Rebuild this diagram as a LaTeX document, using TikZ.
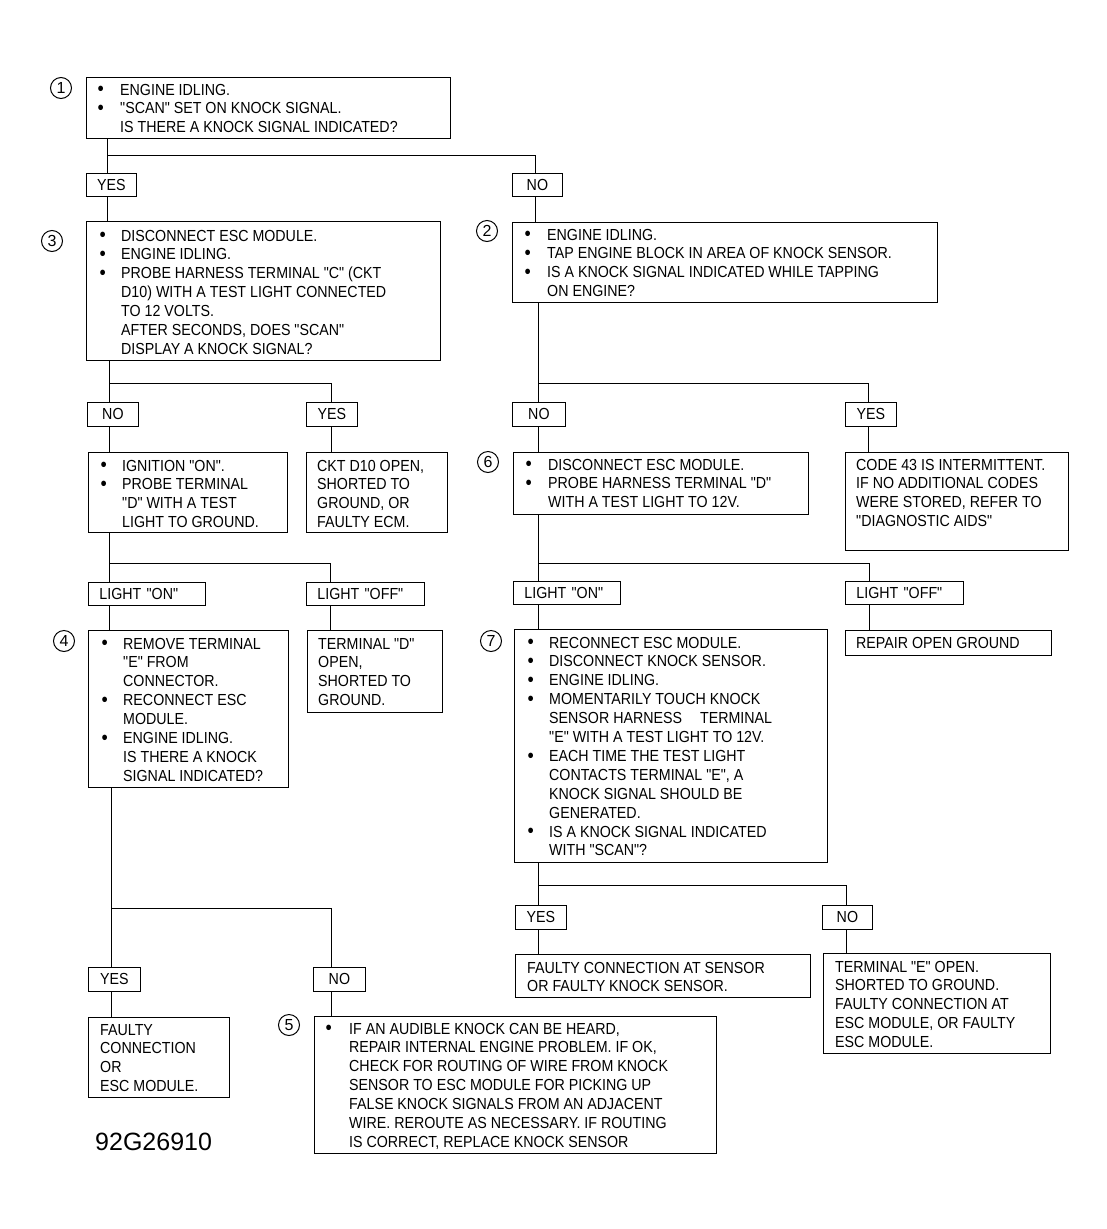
\documentclass[tikz,border=0pt]{standalone}
\usepackage{fontspec}
\setmainfont{Liberation Sans}[FakeStretch=0.89, Ligatures=TeXOff]
\newfontfamily\plainfont{Liberation Sans}
\newcommand\bu[1]{\makebox[#1][l]{\raisebox{-0.6pt}{\fontsize{20}{20}\selectfont\textbullet}}}
\newcommand\ind[1]{\hspace*{#1}}
\newcommand\st{\rule{0pt}{13.9pt}}
\begin{document}
\begin{tikzpicture}[x=1pt,y=-1pt,
  every node/.style={font=\fontsize{16}{18.9}\selectfont},
  box/.style={draw, line width=0.8pt, anchor=north west, inner sep=0pt},
  txt/.style={anchor=north west, inner sep=0pt, align=left},
  yn/.style={draw, line width=0.8pt, anchor=north west, inner sep=0pt, minimum height=24pt},
  lt/.style={draw, line width=0.8pt, anchor=north west, inner xsep=11pt, inner ysep=0pt, minimum height=23pt, text width=#1, align=left},
  num/.style={circle, draw, line width=1pt, inner sep=0pt, minimum size=21pt, font=\plainfont\fontsize{16}{16}\selectfont},
  conn/.style={line width=0.8pt}
]
\fill[white] (0,0) rectangle (1106,1229);
\useasboundingbox (0,0) rectangle (1106,1229);

% ---------- boxes ----------
\node[box, minimum width=364pt, minimum height=61pt] (b1) at (86,77) {};
\node[yn, minimum width=50pt, minimum height=23pt] (yes1) at (86,173) {YES};
\node[yn, minimum width=50pt, minimum height=23pt] (no1) at (512,173) {NO};
\node[box, minimum width=354pt, minimum height=139pt] (b3) at (86,221) {};
\node[box, minimum width=425pt, minimum height=80pt] (b2) at (512,222) {};
\node[yn, minimum width=51pt] (no3) at (87,402) {NO};
\node[yn, minimum width=51pt] (yes3) at (306,402) {YES};
\node[yn, minimum width=53pt] (no2) at (512,402) {NO};
\node[yn, minimum width=51pt] (yes2) at (845,402) {YES};
\node[box, minimum width=199pt, minimum height=80pt] (ign) at (88,452) {};
\node[box, minimum width=141pt, minimum height=80pt] (ckt) at (306,452) {};
\node[box, minimum width=295pt, minimum height=62pt] (b6) at (513,452) {};
\node[box, minimum width=223pt, minimum height=98pt] (code) at (845,452) {};
\node[lt=95pt] (lonL) at (88,582) {LIGHT "ON"};
\node[lt=96pt] (loffL) at (306,582) {LIGHT "OFF"};
\node[lt=85pt] (lonR) at (513,581) {LIGHT "ON"};
\node[lt=96pt] (loffR) at (845,581) {LIGHT "OFF"};
\node[box, minimum width=200pt, minimum height=157pt] (b4) at (88,630) {};
\node[box, minimum width=135pt, minimum height=82pt] (termd) at (307,630) {};
\node[box, minimum width=313pt, minimum height=233pt] (b7) at (514,629) {};
\node[box, minimum width=206pt, minimum height=25pt] (rep) at (845,630) {};
\node[yn, minimum width=52pt] (yes4) at (88,967) {YES};
\node[yn, minimum width=52pt] (no4) at (313,967) {NO};
\node[box, minimum width=141pt, minimum height=80pt] (fc4) at (88,1017) {};
\node[box, minimum width=402pt, minimum height=137pt] (b5) at (314,1016) {};
\node[yn, minimum width=51pt] (yes7) at (515,905) {YES};
\node[yn, minimum width=50pt] (no7) at (822,905) {NO};
\node[box, minimum width=295pt, minimum height=43pt] (fcs) at (515,954) {};
\node[box, minimum width=227pt, minimum height=100pt] (terme) at (823,953) {};

% ---------- numbers ----------
\node[num] (n1) at (61,88) {1};
\node[num] (n3) at (52,241) {3};
\node[num] (n2) at (487,231) {2};
\node[num] (n6) at (488,462) {6};
\node[num] (n4) at (64,641) {4};
\node[num] (n7) at (491,641) {7};
\node[num] (n5) at (289,1025) {5};

% ---------- texts ----------
\node[txt] (b1t) at (97.5,80.9) {\st\bu{22.5pt}ENGINE IDLING.\\
\bu{22.5pt}"SCAN" SET ON KNOCK SIGNAL.\\
\ind{22.5pt}IS THERE A KNOCK SIGNAL INDICATED?};

\node[txt] (b3t) at (99.5,226.9) {\st\bu{21.5pt}DISCONNECT ESC MODULE.\\
\bu{21.5pt}ENGINE IDLING.\\
\bu{21.5pt}PROBE HARNESS TERMINAL "C" (CKT\\
\ind{21.5pt}D10) WITH A TEST LIGHT CONNECTED\\
\ind{21.5pt}TO 12 VOLTS.\\
\ind{21.5pt}AFTER SECONDS, DOES "SCAN"\\
\ind{21.5pt}DISPLAY A KNOCK SIGNAL?};

\node[txt] (b2t) at (524.5,225.9) {\st\bu{22.5pt}ENGINE IDLING.\\
\bu{22.5pt}TAP ENGINE BLOCK IN AREA OF KNOCK SENSOR.\\
\bu{22.5pt}IS A KNOCK SIGNAL INDICATED WHILE TAPPING\\
\ind{22.5pt}ON ENGINE?};

\node[txt] (ignt) at (100.5,456.9) {\st\bu{21.5pt}IGNITION "ON".\\
\bu{21.5pt}PROBE TERMINAL\\
\ind{21.5pt}"D" WITH A TEST\\
\ind{21.5pt}LIGHT TO GROUND.};

\node[txt] (cktt) at (317,456.9) {\st CKT D10 OPEN,\\
SHORTED TO\\
GROUND, OR\\
FAULTY ECM.};

\node[txt] (b6t) at (525.5,455.9) {\st\bu{22.5pt}DISCONNECT ESC MODULE.\\
\bu{22.5pt}PROBE HARNESS TERMINAL "D"\\
\ind{22.5pt}WITH A TEST LIGHT TO 12V.};

\node[txt] (codet) at (856,455.9) {\st CODE 43 IS INTERMITTENT.\\
IF NO ADDITIONAL CODES\\
WERE STORED, REFER TO\\
"DIAGNOSTIC AIDS"};

\node[txt] (b4t) at (101.5,634.9) {\st\bu{21.5pt}REMOVE TERMINAL\\
\ind{21.5pt}"E" FROM\\
\ind{21.5pt}CONNECTOR.\\
\bu{21.5pt}RECONNECT ESC\\
\ind{21.5pt}MODULE.\\
\bu{21.5pt}ENGINE IDLING.\\
\ind{21.5pt}IS THERE A KNOCK\\
\ind{21.5pt}SIGNAL INDICATED?};

\node[txt] (termdt) at (318,634.9) {\st TERMINAL "D"\\
OPEN,\\
SHORTED TO\\
GROUND.};

\node[txt] (b7t) at (527.5,633.9) {\st\bu{21.5pt}RECONNECT ESC MODULE.\\
\bu{21.5pt}DISCONNECT KNOCK SENSOR.\\
\bu{21.5pt}ENGINE IDLING.\\
\bu{21.5pt}MOMENTARILY TOUCH KNOCK\\
\ind{21.5pt}SENSOR HARNESS\hspace{18pt}TERMINAL\\
\ind{21.5pt}"E" WITH A TEST LIGHT TO 12V.\\
\bu{21.5pt}EACH TIME THE TEST LIGHT\\
\ind{21.5pt}CONTACTS TERMINAL "E", A\\
\ind{21.5pt}KNOCK SIGNAL SHOULD BE\\
\ind{21.5pt}GENERATED.\\
\bu{21.5pt}IS A KNOCK SIGNAL INDICATED\\
\ind{21.5pt}WITH "SCAN"?};

\node[txt] (rept) at (856,633.9) {\st REPAIR OPEN GROUND};

\node[txt] (fc4t) at (100,1020.9) {\st FAULTY\\
CONNECTION\\
OR\\
ESC MODULE.};

\node[txt] (b5t) at (325.5,1019.9) {\st\bu{23.5pt}IF AN AUDIBLE KNOCK CAN BE HEARD,\\
\ind{23.5pt}REPAIR INTERNAL ENGINE PROBLEM. IF OK,\\
\ind{23.5pt}CHECK FOR ROUTING OF WIRE FROM KNOCK\\
\ind{23.5pt}SENSOR TO ESC MODULE FOR PICKING UP\\
\ind{23.5pt}FALSE KNOCK SIGNALS FROM AN ADJACENT\\
\ind{23.5pt}WIRE. REROUTE AS NECESSARY. IF ROUTING\\
\ind{23.5pt}IS CORRECT, REPLACE KNOCK SENSOR};

\node[txt] (fcst) at (527,958.9) {\st FAULTY CONNECTION AT SENSOR\\
OR FAULTY KNOCK SENSOR.};

\node[txt] (termet) at (835,957.9) {\st TERMINAL "E" OPEN.\\
SHORTED TO GROUND.\\
FAULTY CONNECTION AT\\
ESC MODULE, OR FAULTY\\
ESC MODULE.};

\node[anchor=west, inner sep=0pt, font=\plainfont\fontsize{25}{25}\selectfont] (code92) at (95,1142) {92G26910};

% ---------- connectors ----------
\coordinate (j1) at (107,155); \coordinate (j1r) at (535,155);
\draw[conn] (b1.south -| j1) -- (yes1.north -| j1);
\draw[conn] (j1) -- (j1r) -- (no1.north -| j1r);
\draw[conn] (yes1.south -| j1) -- (b3.north -| j1);
\draw[conn] (no1.south -| j1r) -- (b2.north -| j1r);

\coordinate (j3) at (109,383); \coordinate (j3r) at (331,383);
\draw[conn] (b3.south -| j3) -- (no3.north -| j3);
\draw[conn] (j3) -- (j3r) -- (yes3.north -| j3r);
\draw[conn] (no3.south -| j3) -- (ign.north -| j3);
\draw[conn] (yes3.south -| j3r) -- (ckt.north -| j3r);

\coordinate (j2) at (538,383); \coordinate (j2r) at (868,383);
\draw[conn] (b2.south -| j2) -- (no2.north -| j2);
\draw[conn] (j2) -- (j2r) -- (yes2.north -| j2r);
\draw[conn] (no2.south -| j2) -- (b6.north -| j2);
\draw[conn] (yes2.south -| j2r) -- (code.north -| j2r);

\coordinate (j5) at (109,563); \coordinate (j5r) at (330,563);
\draw[conn] (ign.south -| j5) -- (lonL.north -| j5);
\draw[conn] (j5) -- (j5r) -- (loffL.north -| j5r);
\draw[conn] (lonL.south -| j5) -- (b4.north -| j5);
\draw[conn] (loffL.south -| j5r) -- (termd.north -| j5r);

\coordinate (j6) at (538,563); \coordinate (j6r) at (869,563);
\draw[conn] (b6.south -| j6) -- (lonR.north -| j6);
\draw[conn] (j6) -- (j6r) -- (loffR.north -| j6r);
\draw[conn] (lonR.south -| j6) -- (b7.north -| j6);
\draw[conn] (loffR.south -| j6r) -- (rep.north -| j6r);

\coordinate (j7) at (111,908); \coordinate (j7r) at (331,908);
\draw[conn] (b4.south -| j7) -- (yes4.north -| j7);
\draw[conn] (j7) -- (j7r) -- (no4.north -| j7r);
\draw[conn] (yes4.south -| j7) -- (fc4.north -| j7);
\draw[conn] (no4.south -| j7r) -- (b5.north -| j7r);

\coordinate (j8) at (538,885); \coordinate (j8r) at (846,885);
\draw[conn] (b7.south -| j8) -- (yes7.north -| j8);
\draw[conn] (j8) -- (j8r) -- (no7.north -| j8r);
\draw[conn] (yes7.south -| j8) -- (fcs.north -| j8);
\draw[conn] (no7.south -| j8r) -- (terme.north -| j8r);
\end{tikzpicture}
\end{document}
